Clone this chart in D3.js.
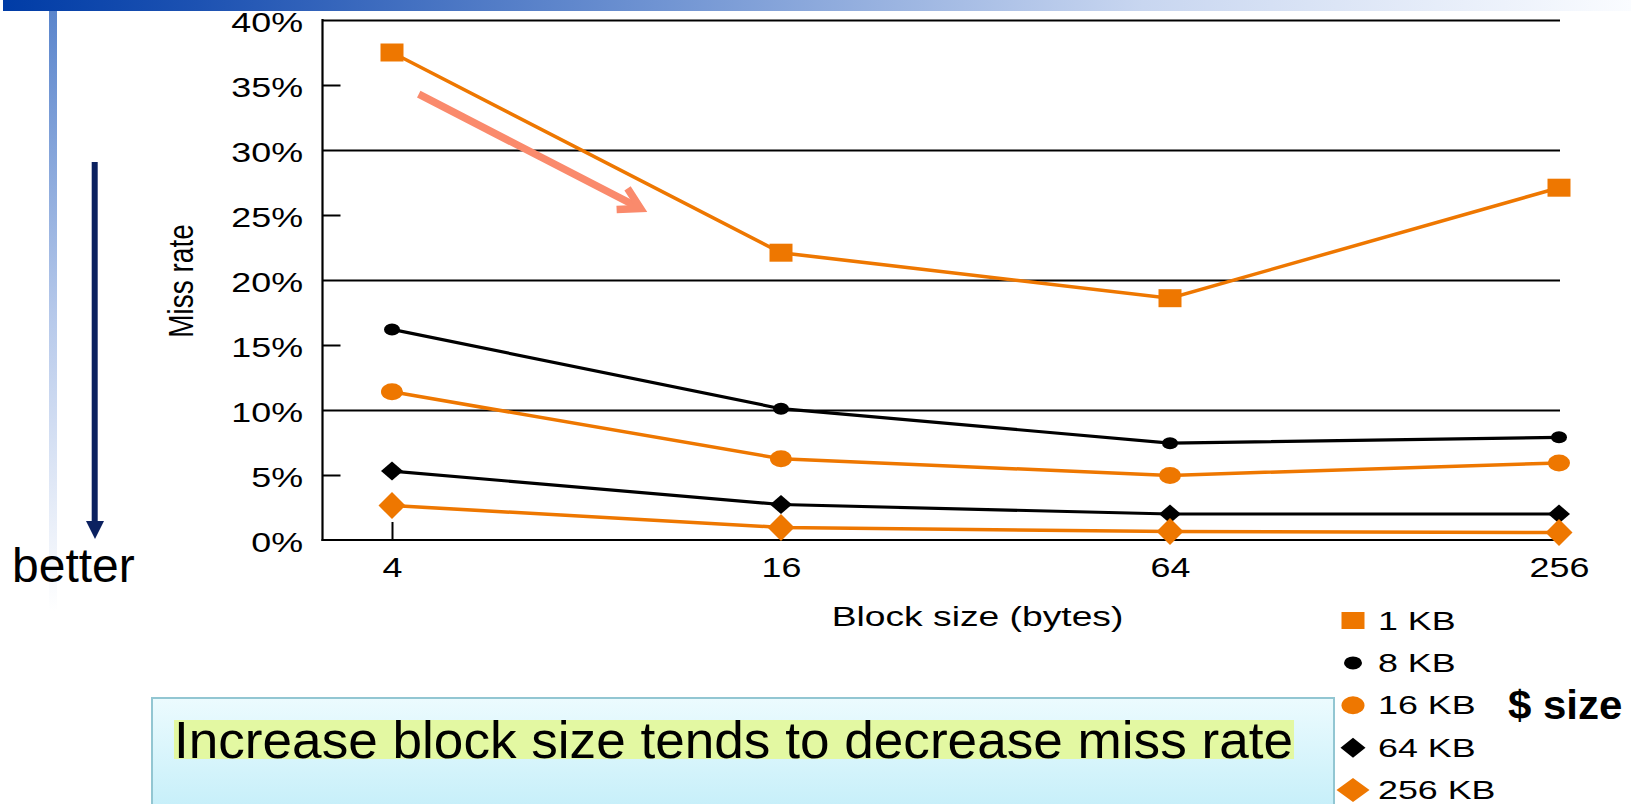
<!DOCTYPE html>
<html><head><meta charset="utf-8">
<script src="https://cdn.jsdelivr.net/npm/d3@7"></script>
<style>html,body{margin:0;padding:0;background:#fff;overflow:hidden}svg{display:block}</style>
</head><body>
<svg id="chart" width="1631" height="804"></svg>
<script>
// ---------------- data ----------------
const blockSizes = [4, 16, 64, 256];
const cacheSizes = ["1 KB", "8 KB", "16 KB", "64 KB", "256 KB"];
const missRate1KB   = [37.5, 22.1, 18.6, 27.1];
const missRate8KB   = [16.2, 10.1, 7.45, 7.9];
const missRate16KB  = [11.4, 6.25, 4.97, 5.93];
const missRate64KB  = [5.3, 2.73, 2.0, 2.0];
const missRate256KB = [2.65, 0.97, 0.65, 0.57];
const yTickValues = [0, 5, 10, 15, 20, 25, 30, 35, 40];
const yGridValues = [10, 20, 30, 40];
const yMinorValues = [5, 15, 25, 35];
const xTickLabels = ["4", "16", "64", "256"];
const trendArrow = [[4.4, 34.3], [9.7, 25.5]]; // [block size, miss %]

// ---------------- setup ----------------
const ORANGE = "#EE7700", BLACK = "#000000";
const seriesData = [missRate1KB, missRate8KB, missRate16KB, missRate64KB, missRate256KB];
const seriesStyle = [
  {color: ORANGE, shape: "square",  w: 23, h: 18, lw: 3.5, legW: 23, legH: 17},
  {color: BLACK,  shape: "circle",  w: 16, h: 12, lw: 3.2, legW: 18, legH: 13},
  {color: ORANGE, shape: "circle",  w: 22, h: 17, lw: 3.5, legW: 23, legH: 18},
  {color: BLACK,  shape: "diamond", w: 22, h: 19, lw: 3.2, legW: 25, legH: 20},
  {color: ORANGE, shape: "diamond", w: 27, h: 27, lw: 3.5, legW: 33, legH: 24}
];
const SX = 1.28; // horizontal stretch of chart text

const svg = d3.select("#chart");
const defs = svg.append("defs");

const tg = defs.append("linearGradient").attr("id","topbar").attr("x1","0").attr("x2","1").attr("y1","0").attr("y2","0");
tg.append("stop").attr("offset","0").attr("stop-color","#003CA6");
tg.append("stop").attr("offset","0.12").attr("stop-color","#1D52B2");
tg.append("stop").attr("offset","0.4").attr("stop-color","#6F93D2");
tg.append("stop").attr("offset","0.7").attr("stop-color","#C8D6F0");
tg.append("stop").attr("offset","1").attr("stop-color","#FAFCFF");

const vg = defs.append("linearGradient").attr("id","vbar").attr("x1","0").attr("x2","0").attr("y1","0").attr("y2","1");
vg.append("stop").attr("offset","0").attr("stop-color","#5A85CC");
vg.append("stop").attr("offset","0.5").attr("stop-color","#B5C8EA");
vg.append("stop").attr("offset","1").attr("stop-color","#FFFFFF");

const bg = defs.append("linearGradient").attr("id","boxfill").attr("x1","0").attr("x2","0").attr("y1","0").attr("y2","1");
bg.append("stop").attr("offset","0").attr("stop-color","#ECFBFE");
bg.append("stop").attr("offset","1").attr("stop-color","#C3EEF9");

// decorative slide elements
svg.append("rect").attr("x",3).attr("y",0).attr("width",1628).attr("height",11).attr("fill","url(#topbar)");
svg.append("rect").attr("x",49).attr("y",11).attr("width",8).attr("height",600).attr("fill","url(#vbar)");

// "better" arrow
svg.append("rect").attr("x",91.7).attr("y",162).attr("width",6).attr("height",362).attr("fill","#0B2160");
svg.append("path").attr("d","M86,521 L104,521 L95,539 Z").attr("fill","#0B2160");
svg.append("text").attr("x",12).attr("y",581.5).attr("font-family","'Liberation Sans', Arial, sans-serif")
  .attr("font-size",48).attr("fill","#000").text("better");

// ---------------- scales ----------------
const x = d3.scaleLog().base(2).domain([4, 256]).range([392, 1559]);
const y = d3.scaleLinear().domain([0, 40]).range([540, 20]);
const plotLeft = 322.5, plotRight = 1560;

const font = "'Liberation Sans', Arial, sans-serif";

// grid lines (10,20,30,40)
svg.append("g").attr("transform",`translate(${plotLeft},0)`)
  .call(d3.axisLeft(y).tickValues(yGridValues).tickSize(-(plotRight - plotLeft)).tickFormat(""))
  .call(g => g.select(".domain").remove())
  .call(g => g.selectAll("line").attr("stroke","#000").attr("stroke-width",2));

// minor inward ticks (5,15,25,35)
svg.append("g").attr("transform",`translate(${plotLeft},0)`)
  .call(d3.axisLeft(y).tickValues(yMinorValues).tickSize(-18).tickFormat(""))
  .call(g => g.select(".domain").remove())
  .call(g => g.selectAll("line").attr("stroke","#000").attr("stroke-width",2));

// y labels
svg.append("g").attr("transform",`translate(${plotLeft},0)`)
  .call(d3.axisLeft(y).tickValues(yTickValues).tickSize(0).tickFormat(d => d + "%"))
  .call(g => g.select(".domain").remove())
  .call(g => g.selectAll("text")
     .attr("font-family", font).attr("font-size", 28).attr("fill","#000")
     .attr("text-anchor","end").attr("dy", 0).attr("y", 11.5)
     .attr("x", -19.5 / SX).attr("transform", `scale(${SX},1)`));

// x axis ticks & labels
svg.append("g").attr("transform","translate(0,540)")
  .call(d3.axisBottom(x).tickValues(blockSizes).tickSize(-18).tickFormat((d,i) => xTickLabels[i]))
  .call(g => g.select(".domain").remove())
  .call(g => g.selectAll("line").attr("stroke","#000").attr("stroke-width",2))
  .call(g => g.selectAll("text")
     .attr("font-family", font).attr("font-size", 28).attr("fill","#000")
     .attr("dy", 0).attr("y", 37).attr("transform", `scale(${SX},1)`));

// frame: left spine and baseline
svg.append("line").attr("x1",plotLeft).attr("x2",plotLeft).attr("y1",y(40)-1).attr("y2",y(0)+1)
  .attr("stroke","#000").attr("stroke-width",2.2);
svg.append("line").attr("x1",plotLeft-1).attr("x2",plotRight).attr("y1",y(0)).attr("y2",y(0))
  .attr("stroke","#000").attr("stroke-width",2.2);

// axis titles
svg.append("text").attr("transform",`translate(193.3,281) scale(${SX},1) rotate(-90)`)
  .attr("text-anchor","middle").attr("font-family",font).attr("font-size",28).attr("fill","#000").text("Miss rate");
svg.append("text").attr("transform",`translate(977.5,625.5) scale(1.33,1)`)
  .attr("text-anchor","middle").attr("font-family",font).attr("font-size",28).attr("fill","#000").text("Block size (bytes)");

// trend arrow annotation
const ax0 = x(trendArrow[0][0]), ay0 = y(trendArrow[0][1]);
const ax1 = x(trendArrow[1][0]), ay1 = y(trendArrow[1][1]);
const ang = Math.atan2(ay1 - ay0, ax1 - ax0);
svg.append("line").attr("x1",ax0).attr("y1",ay0).attr("x2",ax1 - 6*Math.cos(ang)).attr("y2",ay1 - 6*Math.sin(ang))
  .attr("stroke","#FA8A6C").attr("stroke-width",7.5);
const headLen = 24;
const b1 = [ax1 + headLen*Math.cos(ang + Math.PI - 0.52), ay1 + headLen*Math.sin(ang + Math.PI - 0.52)];
const b2 = [ax1 + headLen*Math.cos(ang + Math.PI + 0.52), ay1 + headLen*Math.sin(ang + Math.PI + 0.52)];
svg.append("path").attr("d",`M${b1[0]},${b1[1]} L${ax1},${ay1} L${b2[0]},${b2[1]}`)
  .attr("fill","none").attr("stroke","#FA8A6C").attr("stroke-width",7.5).attr("stroke-linejoin","miter");

// ---------------- series ----------------
function markerPath(shape, w, h) {
  const a = w/2, b = h/2;
  if (shape === "square") return `M${-a},${-b}H${a}V${b}H${-a}Z`;
  if (shape === "diamond") return `M0,${-b}L${a},0L0,${b}L${-a},0Z`;
  return `M${-a},0A${a},${b} 0 1,0 ${a},0A${a},${b} 0 1,0 ${-a},0Z`;
}
const line = d3.line().x((d,i) => x(blockSizes[i])).y(d => y(d));

seriesData.forEach((vals, si) => {
  const st = seriesStyle[si];
  const g = svg.append("g");
  g.append("path").attr("d", line(vals)).attr("fill","none").attr("stroke", st.color).attr("stroke-width", st.lw);
  g.selectAll("path.m").data(vals).join("path").attr("class","m")
    .attr("transform",(d,i) => `translate(${x(blockSizes[i])},${y(d)})`)
    .attr("d", markerPath(st.shape, st.w, st.h)).attr("fill", st.color);
});

// ---------------- legend ----------------
const legY = d3.scalePoint().domain(cacheSizes).range([620.5, 790]);
const leg = svg.append("g");
cacheSizes.forEach((name, si) => {
  const st = seriesStyle[si];
  const cy = legY(name);
  leg.append("path").attr("transform",`translate(1353,${cy})`).attr("d", markerPath(st.shape, st.legW, st.legH)).attr("fill", st.color);
  leg.append("text").attr("transform",`translate(1378,${cy + 9}) scale(1.4,1)`)
    .attr("font-family",font).attr("font-size",25.6).attr("fill","#000").text(name);
});
svg.append("text").attr("transform","translate(1508,718.5) scale(1.05,1)")
  .attr("font-family",font).attr("font-weight","bold").attr("font-size",40).attr("fill","#000").text("$ size");

// ---------------- caption box ----------------
svg.append("rect").attr("x",152).attr("y",698).attr("width",1182).attr("height",120)
  .attr("fill","url(#boxfill)").attr("stroke","#92C6D2").attr("stroke-width",2);
svg.append("rect").attr("x",174).attr("y",720).attr("width",1120).attr("height",39).attr("fill","#E3F8A2");
svg.append("text").attr("x",174).attr("y",757.7).attr("font-family",font).attr("font-size",52)
  .attr("textLength",1119).attr("lengthAdjust","spacingAndGlyphs").attr("fill","#000")
  .text("Increase block size tends to decrease miss rate");
</script>
</body></html>
